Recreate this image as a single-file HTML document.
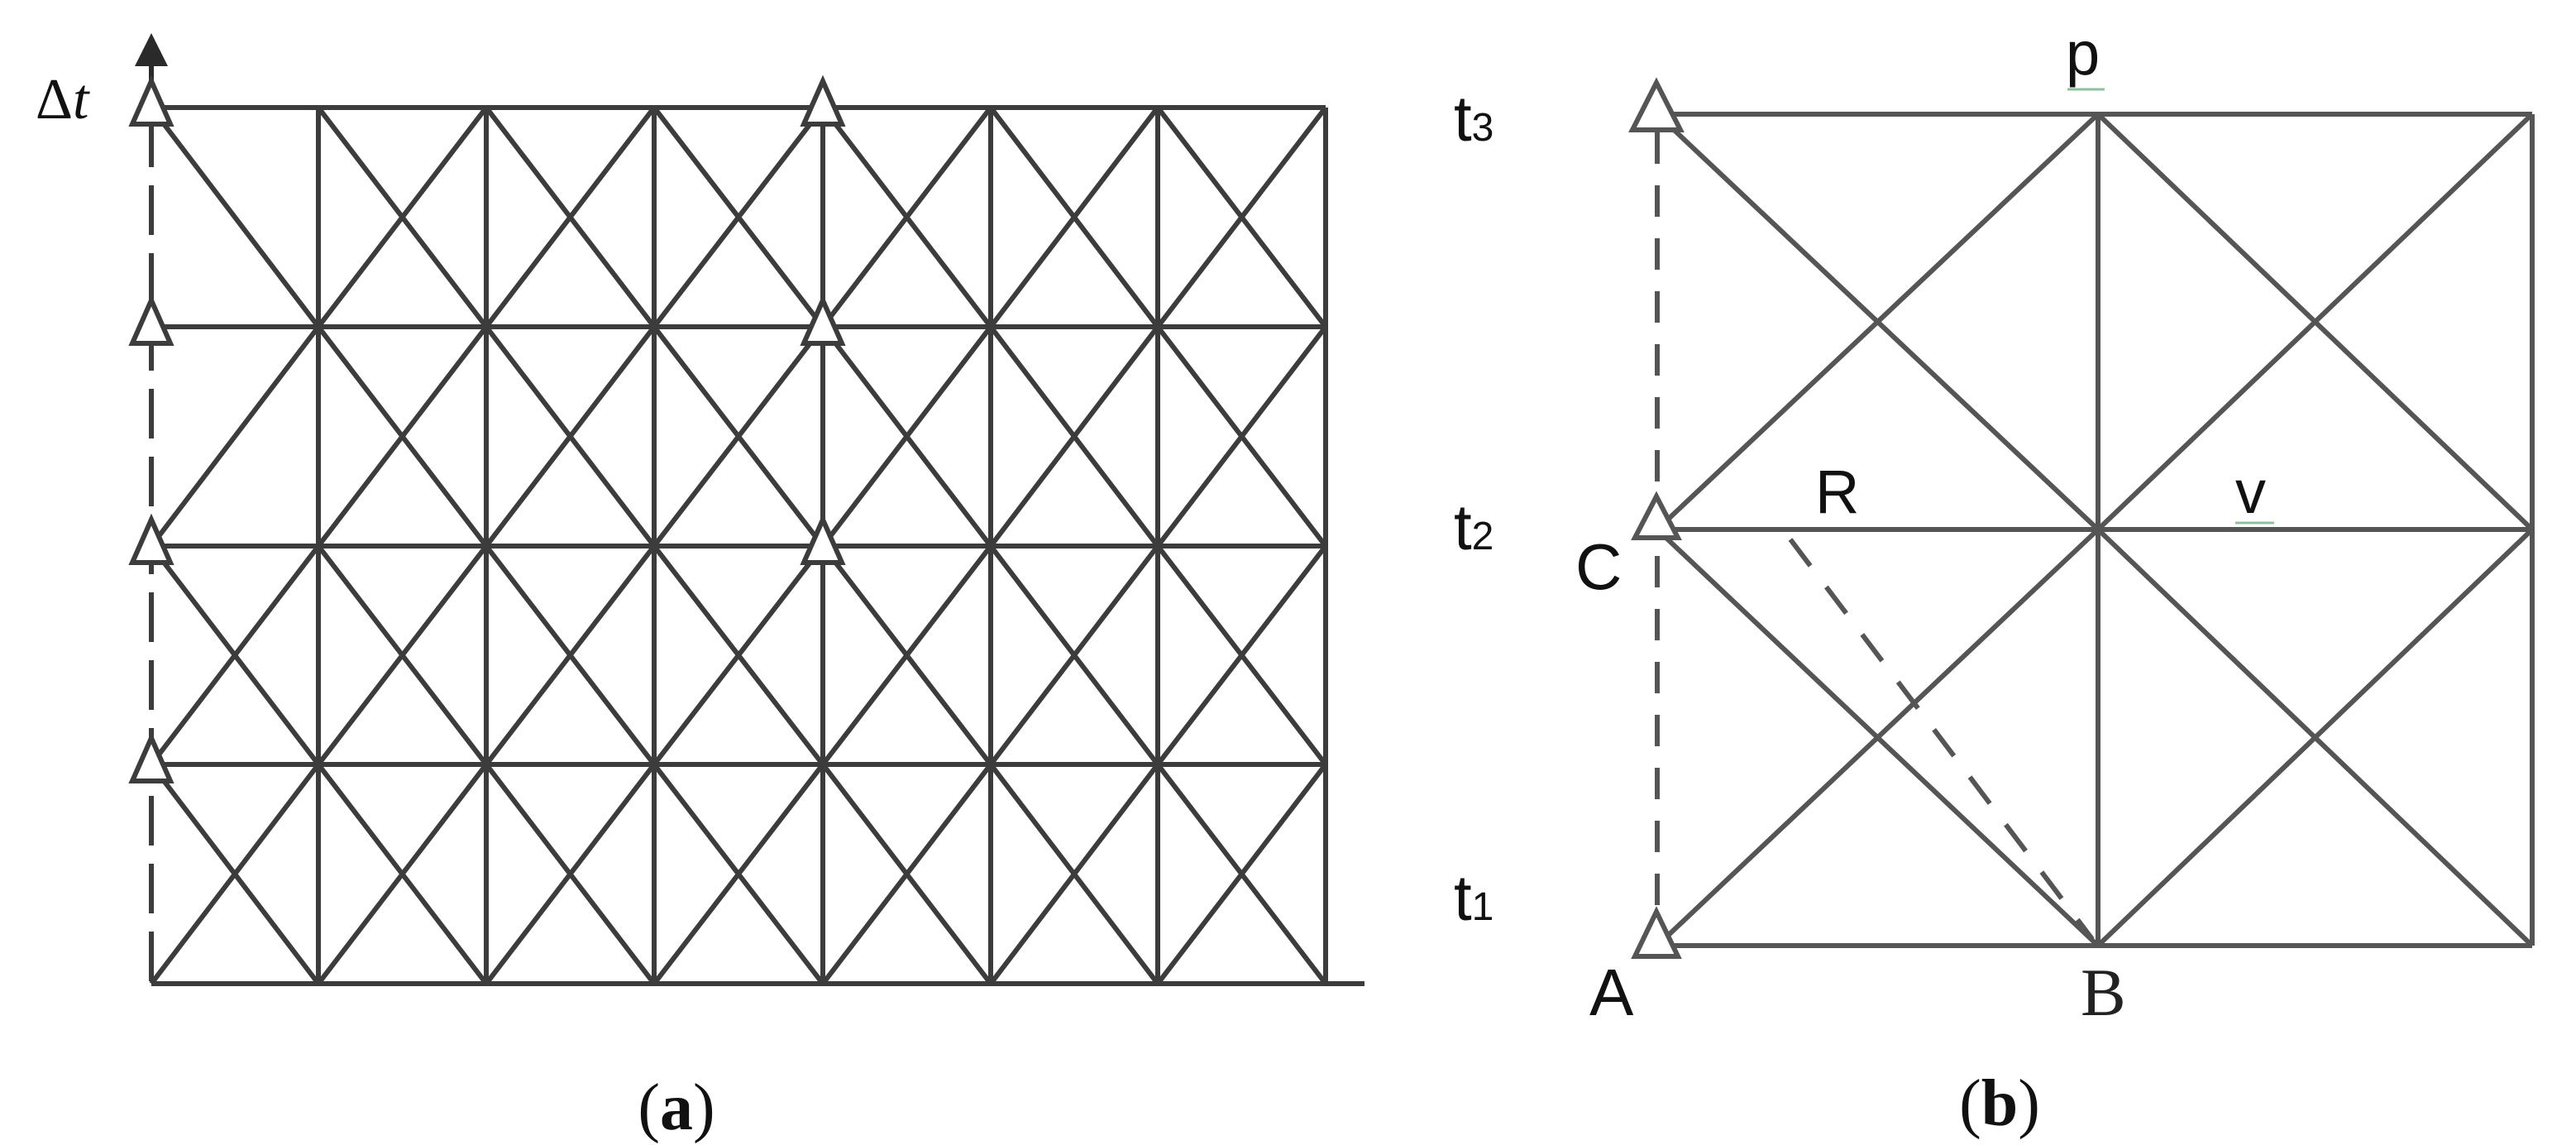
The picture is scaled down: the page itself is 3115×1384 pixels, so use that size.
<!DOCTYPE html>
<html><head><meta charset="utf-8"><style>
html,body{margin:0;padding:0;background:#fff;}
svg{display:block;}
</style></head><body>
<svg width="3115" height="1384" viewBox="0 0 3115 1384" xmlns="http://www.w3.org/2000/svg">
<g stroke="#3c3c3c" stroke-width="6" fill="none" stroke-linecap="butt">
<line x1="183" y1="130" x2="1603" y2="130"/>
<line x1="183" y1="395" x2="1603" y2="395"/>
<line x1="183" y1="660" x2="1603" y2="660"/>
<line x1="183" y1="924" x2="1603" y2="924"/>
<line x1="183" y1="1189" x2="1650" y2="1189"/>
<line x1="385" y1="130" x2="385" y2="1189"/>
<line x1="588" y1="130" x2="588" y2="1189"/>
<line x1="791" y1="130" x2="791" y2="1189"/>
<line x1="995" y1="130" x2="995" y2="1189"/>
<line x1="1198" y1="130" x2="1198" y2="1189"/>
<line x1="1400" y1="130" x2="1400" y2="1189"/>
<line x1="1603" y1="130" x2="1603" y2="1189"/>
<line x1="183" y1="60" x2="183" y2="1189" stroke-dasharray="60,22"/>
<line x1="183" y1="130" x2="385" y2="395"/>
<line x1="183" y1="660" x2="385" y2="395"/>
<line x1="183" y1="660" x2="385" y2="924"/><line x1="183" y1="924" x2="385" y2="660"/>
<line x1="183" y1="924" x2="385" y2="1189"/><line x1="183" y1="1189" x2="385" y2="924"/>
<path d="
M385 130L588 395M385 395L588 130M588 130L791 395M588 395L791 130M791 130L995 395M791 395L995 130M995 130L1198 395M995 395L1198 130M1198 130L1400 395M1198 395L1400 130M1400 130L1603 395M1400 395L1603 130
M385 395L588 660M385 660L588 395M588 395L791 660M588 660L791 395M791 395L995 660M791 660L995 395M995 395L1198 660M995 660L1198 395M1198 395L1400 660M1198 660L1400 395M1400 395L1603 660M1400 660L1603 395
M385 660L588 924M385 924L588 660M588 660L791 924M588 924L791 660M791 660L995 924M791 924L995 660M995 660L1198 924M995 924L1198 660M1198 660L1400 924M1198 924L1400 660M1400 660L1603 924M1400 924L1603 660
M385 924L588 1189M385 1189L588 924M588 924L791 1189M588 1189L791 924M791 924L995 1189M791 1189L995 924M995 924L1198 1189M995 1189L1198 924M1198 924L1400 1189M1198 1189L1400 924M1400 924L1603 1189M1400 1189L1603 924"/>
</g>
<polygon points="183,40 163,80 203,80" fill="#2a2a2a"/>
<line x1="183" y1="78" x2="183" y2="100" stroke="#2a2a2a" stroke-width="6"/>
<g fill="#fff" stroke="#3c3c3c" stroke-width="6">
<polygon points="183,98 160,150 206,150"/>
<polygon points="183,363 160,415 206,415"/>
<polygon points="183,628 160,680 206,680"/>
<polygon points="183,892 160,944 206,944"/>
<polygon points="995,98 972,150 1018,150"/>
<polygon points="995,363 972,415 1018,415"/>
<polygon points="995,628 972,680 1018,680"/>
</g>
<text x="43" y="143" font-family="Liberation Serif, serif" font-size="70" fill="#111">Δ<tspan font-style="italic">t</tspan></text>
<text x="818" y="1365" font-family="Liberation Serif, serif" font-size="80" fill="#111" text-anchor="middle">(<tspan font-weight="bold">a</tspan>)</text>

<g stroke="#555" stroke-width="6" fill="none">
<line x1="2004" y1="138" x2="3062" y2="138"/>
<line x1="2004" y1="640" x2="3062" y2="640"/>
<line x1="2004" y1="1143" x2="3062" y2="1143"/>
<line x1="2537" y1="138" x2="2537" y2="1143"/>
<line x1="3062" y1="138" x2="3062" y2="1143"/>
<path d="M2004 138L2537 640M2004 640L2537 138M2537 138L3062 640M2537 640L3062 138M2004 640L2537 1143M2004 1143L2537 640M2537 640L3062 1143M2537 1143L3062 640"/>
<line x1="2004" y1="160" x2="2004" y2="1120" stroke-dasharray="38,26"/>
<line x1="2165" y1="652" x2="2530" y2="1135" stroke-dasharray="40,32"/>
</g>
<g fill="#fff" stroke="#555" stroke-width="6">
<polygon points="2003,100 1974,157 2032,157"/>
<polygon points="2003,600 1977,650 2029,650"/>
<polygon points="2003,1102 1977,1156 2029,1156"/>
</g>
<g font-family="Liberation Sans, sans-serif" fill="#111">
<text x="1758" y="170" font-size="78">t<tspan font-size="48">3</tspan></text>
<text x="1758" y="664" font-size="78">t<tspan font-size="48">2</tspan></text>
<text x="1758" y="1112" font-size="78">t<tspan font-size="48">1</tspan></text>
<text x="1905" y="712" font-size="78">C</text>
<text x="1922" y="1227" font-size="80">A</text>
<text x="2195" y="620" font-size="74">R</text>
<text x="2703" y="620" font-size="74">v</text>
<text x="2498" y="90" font-size="74">p</text>
</g>
<line x1="2500" y1="108" x2="2545" y2="108" stroke="#8fbf9f" stroke-width="3"/>
<line x1="2703" y1="632" x2="2750" y2="632" stroke="#8fbf9f" stroke-width="3"/>
<text x="2516" y="1227" font-family="Liberation Serif, serif" font-size="82" fill="#222">B</text>
<text x="2418" y="1360" font-family="Liberation Serif, serif" font-size="80" fill="#111" text-anchor="middle">(<tspan font-weight="bold">b</tspan>)</text>
</svg>
</body></html>
